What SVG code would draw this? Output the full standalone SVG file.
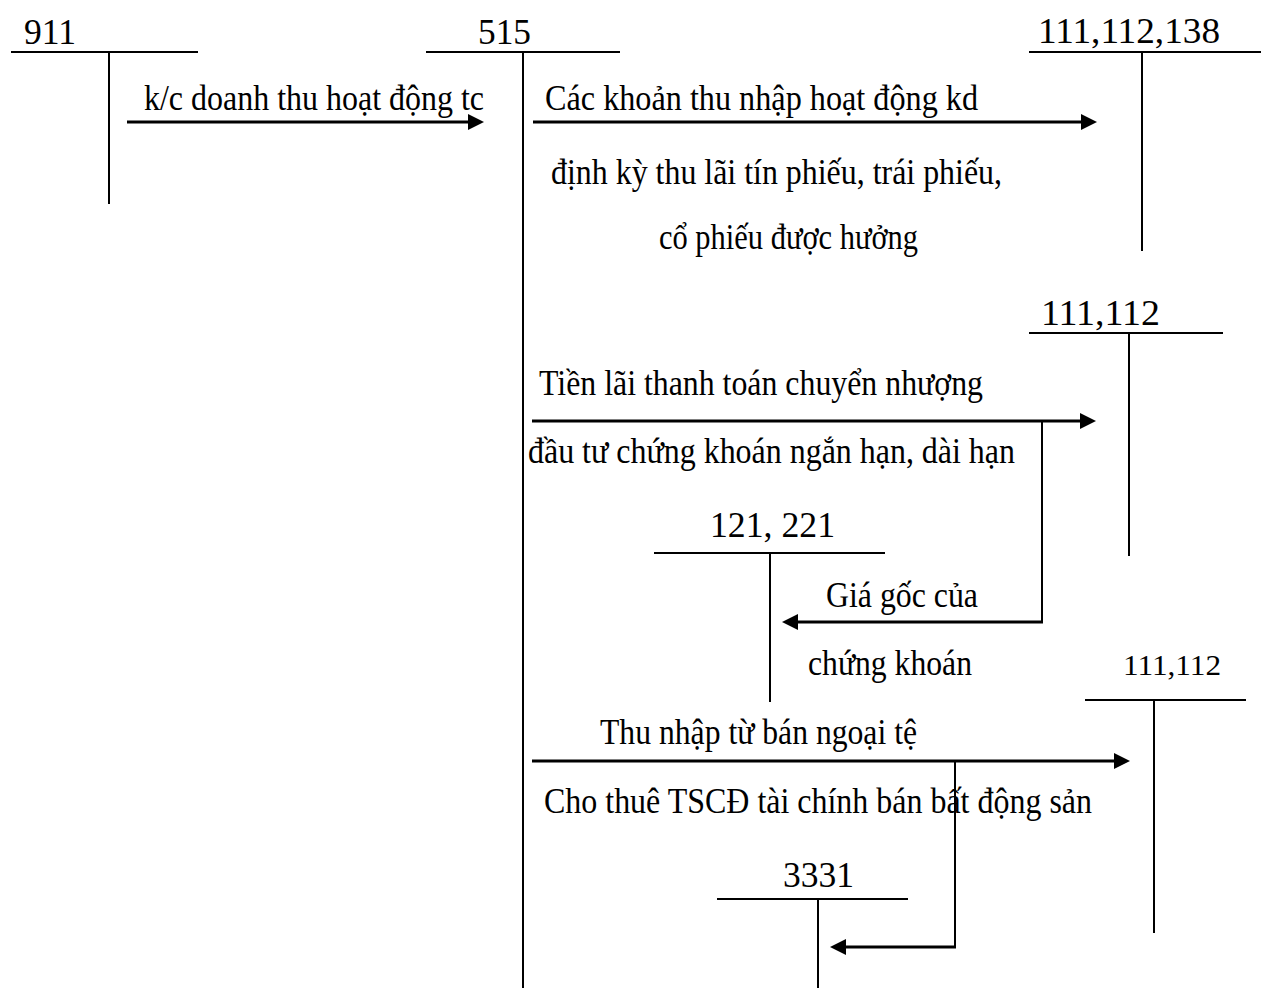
<svg xmlns="http://www.w3.org/2000/svg" width="1261" height="988" viewBox="0 0 1261 988">
<style>
.bg{fill:#fff}
.t{stroke:#000;stroke-width:2;fill:none}
.a{stroke:#000;stroke-width:3;fill:none}
.lbl{font-family:"Liberation Serif","Times New Roman",serif;font-size:36px;fill:#000}
.txt{font-family:"Liberation Serif","Times New Roman",serif;font-size:35px;fill:#000}
</style>
<defs>
<marker id="ah" markerUnits="userSpaceOnUse" markerWidth="18" markerHeight="16" refX="8" refY="8" orient="auto">
<path d="M0,0 L16,8 L0,16 z" fill="#000"/>
</marker>
</defs>
<rect class="bg" x="0" y="0" width="1261" height="988"/>
<g id="acc911">
<line class="t" x1="11" y1="52" x2="198" y2="52"/>
<line class="t" x1="109" y1="52" x2="109" y2="204"/>
<text class="lbl" x="24" y="44" textLength="52" lengthAdjust="spacingAndGlyphs">911</text>
</g>
<g id="acc515">
<line class="t" x1="426" y1="52" x2="620" y2="52"/>
<line class="t" x1="523" y1="52" x2="523" y2="988"/>
<text class="lbl" x="478" y="44" textLength="53" lengthAdjust="spacingAndGlyphs">515</text>
</g>
<g id="acc111_112_138">
<line class="t" x1="1029" y1="52" x2="1261" y2="52"/>
<line class="t" x1="1142" y1="52" x2="1142" y2="251"/>
<text class="lbl" x="1038" y="43" textLength="182" lengthAdjust="spacingAndGlyphs">111,112,138</text>
</g>
<g id="acc111_112_a">
<line class="t" x1="1029" y1="333" x2="1223" y2="333"/>
<line class="t" x1="1129" y1="333" x2="1129" y2="556"/>
<text class="lbl" x="1041" y="325" textLength="119" lengthAdjust="spacingAndGlyphs">111,112</text>
</g>
<g id="acc121_221">
<line class="t" x1="654" y1="553" x2="885" y2="553"/>
<line class="t" x1="770" y1="553" x2="770" y2="702"/>
<text class="lbl" x="710" y="537" textLength="125" lengthAdjust="spacingAndGlyphs">121, 221</text>
</g>
<g id="acc111_112_b">
<line class="t" x1="1085" y1="700" x2="1246" y2="700"/>
<line class="t" x1="1154" y1="700" x2="1154" y2="933"/>
<text class="lbl" x="1123" y="675" style="font-size:30px" textLength="98" lengthAdjust="spacingAndGlyphs">111,112</text>
</g>
<g id="acc3331">
<line class="t" x1="717" y1="899" x2="908" y2="899"/>
<line class="t" x1="818" y1="899" x2="818" y2="988"/>
<text class="lbl" x="783" y="887" textLength="71" lengthAdjust="spacingAndGlyphs">3331</text>
</g>
<g id="connectors">
<line class="a" x1="127" y1="122" x2="476" y2="122" marker-end="url(#ah)"/>
<line class="a" x1="533" y1="122" x2="1089" y2="122" marker-end="url(#ah)"/>
<line class="a" x1="532" y1="421" x2="1088" y2="421" marker-end="url(#ah)"/>
<polyline class="t" points="1042,421 1042,622"/>
<line class="a" x1="1043" y1="622" x2="790" y2="622" marker-end="url(#ah)"/>
<line class="a" x1="532" y1="761" x2="1122" y2="761" marker-end="url(#ah)"/>
<polyline class="t" points="955,761 955,947"/>
<line class="a" x1="956" y1="947" x2="838" y2="947" marker-end="url(#ah)"/>
</g>
<g id="labels">
<text class="txt" x="144" y="110" textLength="340" lengthAdjust="spacingAndGlyphs">k/c doanh thu hoạt động tc</text>
<text class="txt" x="545" y="110" textLength="433" lengthAdjust="spacingAndGlyphs">Các khoản thu nhập hoạt động kd</text>
<text class="txt" x="551" y="184" textLength="451" lengthAdjust="spacingAndGlyphs">định kỳ thu lãi tín phiếu, trái phiếu,</text>
<text class="txt" x="659" y="249" textLength="259" lengthAdjust="spacingAndGlyphs">cổ phiếu được hưởng</text>
<text class="txt" x="539" y="395" textLength="444" lengthAdjust="spacingAndGlyphs">Tiền lãi thanh toán chuyển nhượng</text>
<text class="txt" x="528" y="463" textLength="487" lengthAdjust="spacingAndGlyphs">đầu tư chứng khoán ngắn hạn, dài hạn</text>
<text class="txt" x="826" y="607" textLength="152" lengthAdjust="spacingAndGlyphs">Giá gốc của</text>
<text class="txt" x="808" y="675" textLength="164" lengthAdjust="spacingAndGlyphs">chứng khoán</text>
<text class="txt" x="600" y="744" textLength="317" lengthAdjust="spacingAndGlyphs">Thu nhập từ bán ngoại tệ</text>
<text class="txt" x="544" y="813" textLength="548" lengthAdjust="spacingAndGlyphs">Cho thuê TSCĐ tài chính bán bất động sản</text>
</g>
</svg>
